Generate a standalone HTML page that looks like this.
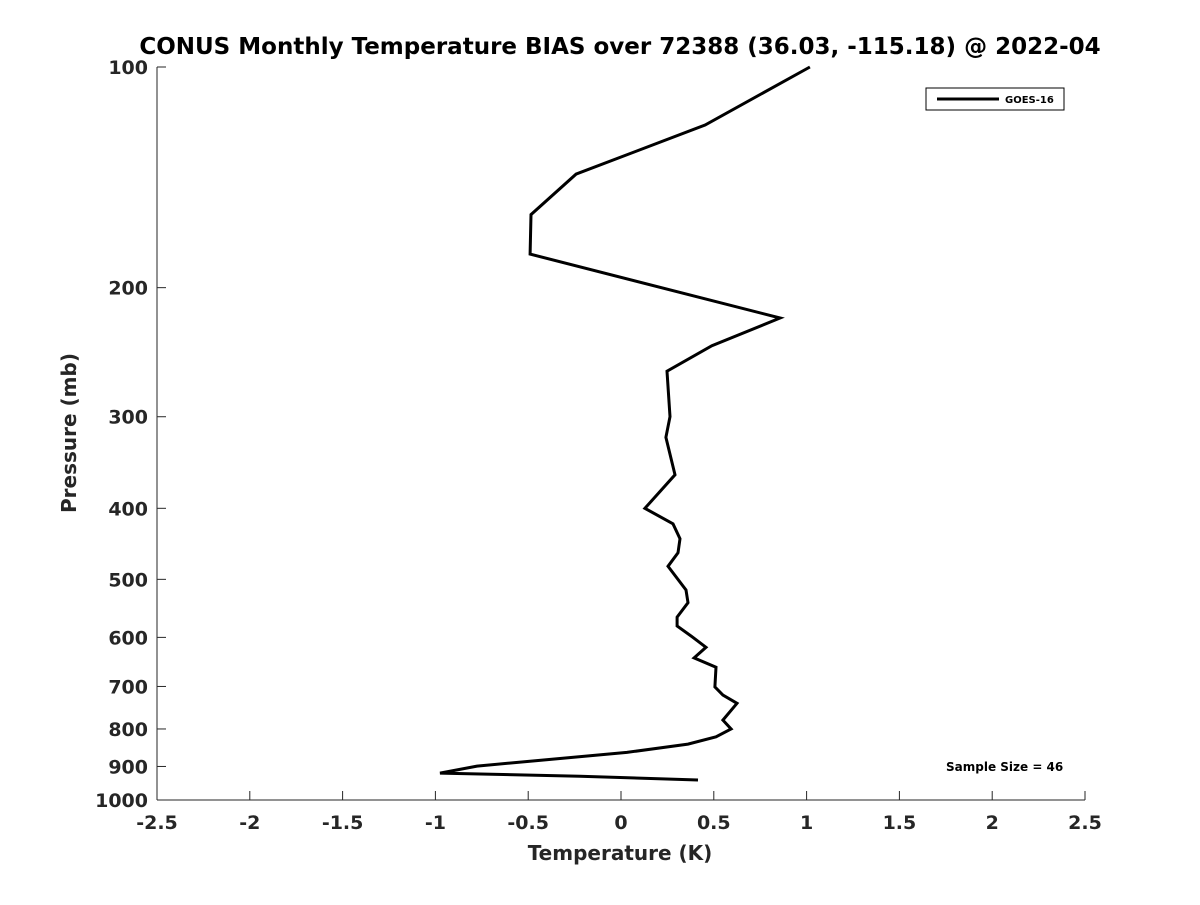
<!DOCTYPE html>
<html><head><meta charset="utf-8"><style>
body{margin:0;background:#fff;}
svg text{font-family:"DejaVu Sans","Liberation Sans",sans-serif;font-weight:bold;fill:#262626;}
</style></head><body>
<svg id="chart" width="1200" height="900" xmlns="http://www.w3.org/2000/svg">
<rect width="1200" height="900" fill="#fff"/>
<text x="620" y="54" text-anchor="middle" font-size="23" style="fill:#000">CONUS Monthly Temperature BIAS over 72388 (36.03, -115.18) @ 2022-04</text>
<g id="axes"></g>
<text x="620" y="860" text-anchor="middle" font-size="20">Temperature (K)</text>
<text transform="translate(76,433) rotate(-90)" text-anchor="middle" font-size="20">Pressure (mb)</text>
<g>
<rect x="926" y="88" width="138" height="22" fill="#fff" stroke="#000" stroke-width="1"/>
<line x1="937" y1="99" x2="999" y2="99" stroke="#000" stroke-width="3"/>
<text x="1005" y="103" font-size="10" style="fill:#000">GOES-16</text>
</g>
<text x="946" y="771" font-size="12" style="fill:#000">Sample Size = 46</text>
</svg>
<script>
const pressures=[100,120,140,159,180,220,240,260,300,320,360,400,420,440,460,480,517,538,563,579,600,619,640,659,701,719,738,778,800,820,839,861,899,919,928,939];
const biasValues=[1.018,0.453,-0.242,-0.485,-0.49,0.857,0.49,0.248,0.264,0.242,0.291,0.129,0.28,0.318,0.307,0.253,0.35,0.361,0.302,0.302,0.388,0.458,0.394,0.512,0.506,0.549,0.625,0.549,0.593,0.512,0.361,0.032,-0.776,-0.975,-0.221,0.415];
const xTicks=[-2.5,-2,-1.5,-1,-0.5,0,0.5,1,1.5,2,2.5];
const yTicks=[100,200,300,400,500,600,700,800,900,1000];
const X0=157,X1=1085,Y0=67,Y1=800;
function xs(v){return X0+(v+2.5)/5*(X1-X0);}
function ys(p){return Y0+(Math.log10(p)-2)*(Y1-Y0);}
const NS="http://www.w3.org/2000/svg";
const svg=document.getElementById('chart');
const g=document.getElementById('axes');
function mk(t,a){const e=document.createElementNS(NS,t);for(const k in a)e.setAttribute(k,a[k]);return e;}
let ax=mk('line',{x1:X0,y1:Y1,x2:X1,y2:Y1,stroke:'#262626','stroke-width':1});


g.appendChild(ax);
let ay=mk('line',{x1:X0,y1:Y0,x2:X0,y2:Y1,stroke:'#262626','stroke-width':1});


g.appendChild(ay);
xTicks.forEach(v=>{const x=xs(v);
 let t=mk('line',{x1:x,y1:Y1,x2:x,y2:Y1-9,stroke:'#262626'});
 
 
 g.appendChild(t);
 let l=mk('text',{x:x,y:829,'text-anchor':'middle','font-size':19});l.textContent=String(v);
 
 
 g.appendChild(l);});
yTicks.forEach(p=>{const y=ys(p);
 let t=mk('line',{x1:X0,y1:y,x2:X0+9,y2:y,stroke:'#262626'});
 
 
 g.appendChild(t);
 let l=mk('text',{x:148,y:y+7,'text-anchor':'end','font-size':19});l.textContent=String(p);
 
 
 g.appendChild(l);});
const pts=pressures.map((p,i)=>xs(biasValues[i]).toFixed(1)+','+ys(p).toFixed(1)).join(' ');
let pl=mk('polyline',{points:pts,fill:'none',stroke:'#000','stroke-width':3,'stroke-linejoin':'miter'});


svg.appendChild(pl);
</script>
</body></html>
